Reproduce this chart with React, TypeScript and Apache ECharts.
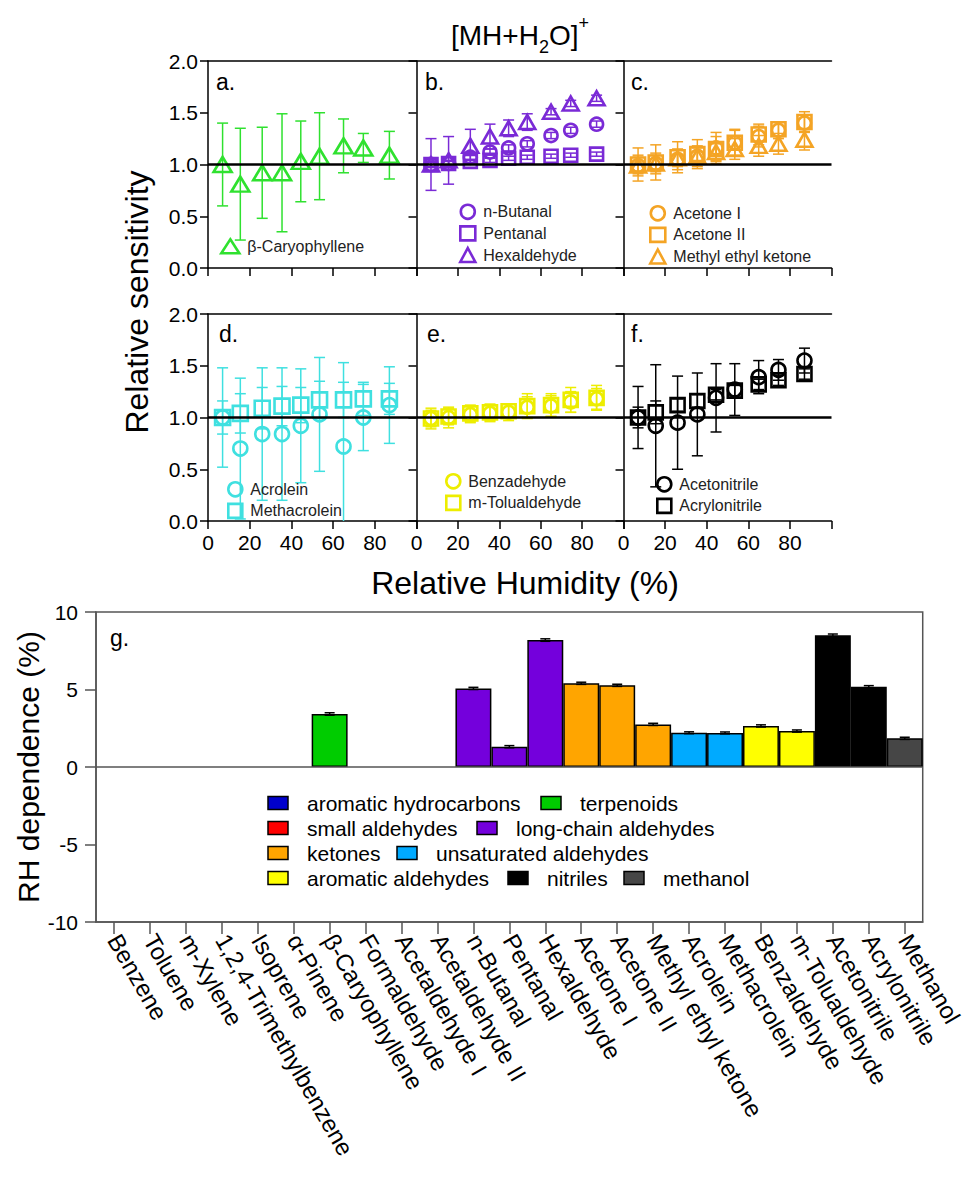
import React, { useEffect, useRef } from 'react';
import * as echarts from 'echarts';

const FONT = '"Liberation Sans", Arial, Helvetica, sans-serif';

// ---------- Data: relative humidity sweep (x values shared by all panels) ----------
const rh = [7, 15.5, 26, 35.5, 44.5, 53.5, 65, 74.5, 87];

// panel a
const caryophyllene = [1.0, 0.81, 0.92, 0.92, 1.03, 1.08, 1.18, 1.16, 1.09];
const caryophylleneErr = [0.4, 0.54, 0.44, 0.57, 0.39, 0.42, 0.26, 0.14, 0.23];
// panel b
const butanal = [1.0, 1.01, 1.07, 1.12, 1.16, 1.2, 1.28, 1.33, 1.39];
const butanalErr = [0.03, 0.03, 0.03, 0.03, 0.03, 0.03, 0.03, 0.03, 0.03];
const pentanal = [1.0, 1.01, 1.03, 1.04, 1.06, 1.07, 1.08, 1.09, 1.1];
const pentanalErr = [0.02, 0.02, 0.02, 0.02, 0.02, 0.02, 0.02, 0.02, 0.02];
const hexaldehyde = [1.0, 1.04, 1.18, 1.27, 1.35, 1.41, 1.51, 1.59, 1.64];
const hexaldehydeErr = [0.25, 0.23, 0.16, 0.12, 0.08, 0.08, 0.03, 0.03, 0.03];
// panel c
const acetone1 = [0.99, 1.01, 1.05, 1.08, 1.16, 1.21, 1.27, 1.33, 1.4];
const acetone1Err = [0.1, 0.1, 0.1, 0.1, 0.15, 0.13, 0.1, 0.08, 0.08];
const acetone2 = [1.0, 1.02, 1.07, 1.1, 1.15, 1.21, 1.29, 1.34, 1.41];
const acetone2Err = [0.16, 0.17, 0.15, 0.14, 0.12, 0.12, 0.1, 0.07, 0.1];
const mek = [0.99, 1.01, 1.06, 1.08, 1.12, 1.15, 1.18, 1.2, 1.24];
const mekErr = [0.08, 0.08, 0.08, 0.08, 0.08, 0.1, 0.1, 0.1, 0.1];
// panel d
const acrolein = [1.0, 0.7, 0.84, 0.84, 0.92, 1.03, 0.72, 1.0, 1.12];
const acroleinErr = [0.48, 0.68, 0.64, 0.64, 0.55, 0.55, 0.81, 0.32, 0.37];
const methacrolein = [1.0, 1.04, 1.09, 1.11, 1.12, 1.17, 1.17, 1.18, 1.18];
const methacroleinErr = [0.16, 0.19, 0.2, 0.19, 0.17, 0.18, 0.17, 0.16, 0.15];
// panel e
const benzaldehyde = [0.99, 1.0, 1.03, 1.04, 1.05, 1.1, 1.11, 1.15, 1.18];
const benzaldehydeErr = [0.1, 0.1, 0.08, 0.08, 0.08, 0.1, 0.1, 0.1, 0.1];
const tolualdehyde = [0.99, 1.01, 1.04, 1.05, 1.06, 1.11, 1.12, 1.17, 1.19];
const tolualdehydeErr = [0.08, 0.08, 0.08, 0.08, 0.07, 0.12, 0.11, 0.12, 0.12];
// panel f
const acetonitrile = [1.0, 0.92, 0.95, 1.03, 1.19, 1.27, 1.39, 1.46, 1.55];
const acetonitrileErr = [0.3, 0.59, 0.45, 0.4, 0.33, 0.25, 0.16, 0.1, 0.12];
const acrylonitrile = [1.0, 1.05, 1.12, 1.16, 1.22, 1.26, 1.32, 1.36, 1.42];
const acrylonitrileErr = [0.1, 0.11, 0.06, 0.06, 0.05, 0.05, 0.05, 0.05, 0.05];

const yTicksTop = [0, 0.5, 1.0, 1.5, 2.0];
const xTicksRH = [0, 20, 40, 60, 80];

// ---------- Data: panel g ----------
const compounds = [
  'Benzene', 'Toluene', 'm-Xylene', '1,2,4-Trimethylbenzene', 'Isoprene', 'α-Pinene',
  'β-Caryophyllene', 'Formaldehyde', 'Acetaldehyde I', 'Acetaldehyde II', 'n-Butanal',
  'Pentanal', 'Hexaldehyde', 'Acetone I', 'Acetone II', 'Methyl ethyl ketone', 'Acrolein',
  'Methacrolein', 'Benzaldehyde', 'm-Tolualdehyde', 'Acetonitrile', 'Acrylonitrile', 'Methanol',
];
const compoundGroup = [
  'aromatic hydrocarbons', 'aromatic hydrocarbons', 'aromatic hydrocarbons', 'aromatic hydrocarbons',
  'terpenoids', 'terpenoids', 'terpenoids',
  'small aldehydes', 'small aldehydes', 'small aldehydes',
  'long-chain aldehydes', 'long-chain aldehydes', 'long-chain aldehydes',
  'ketones', 'ketones', 'ketones',
  'unsaturated aldehydes', 'unsaturated aldehydes',
  'aromatic aldehydes', 'aromatic aldehydes',
  'nitriles', 'nitriles',
  'methanol',
];
const rhDependence = [
  null, null, null, null, null, null, 3.42, null, null, null, 5.07, 1.31, 8.19,
  5.4, 5.27, 2.75, 2.21, 2.2, 2.65, 2.32, 8.5, 5.18, 1.85,
];
const rhDependenceErr = [
  null, null, null, null, null, null, 0.08, null, null, null, 0.07, 0.07, 0.08,
  0.07, 0.07, 0.07, 0.06, 0.06, 0.07, 0.07, 0.08, 0.07, 0.07,
];
const yTicksG = [-10, -5, 0, 5, 10];

const groupNames = [
  'aromatic hydrocarbons', 'small aldehydes', 'ketones', 'aromatic aldehydes',
  'terpenoids', 'long-chain aldehydes', 'unsaturated aldehydes', 'nitriles', 'methanol',
];
const groupColors = ['#0000cc', '#ff0000', '#ffa500', '#ffff00', '#00cc00', '#7400dc', '#00aaff', '#000000', '#464646'];
const legendRows = [
  ['aromatic hydrocarbons', 'terpenoids'],
  ['small aldehydes', 'long-chain aldehydes'],
  ['ketones', 'unsaturated aldehydes'],
  ['aromatic aldehydes', 'nitriles', 'methanol'],
];

// ---------- Layout ----------
const gridRects = [
  [208, 61, 208.5, 207], [416.5, 61, 207, 207], [623.5, 61, 208, 207],
  [208, 314, 208.5, 207], [416.5, 314, 207, 207], [623.5, 314, 208, 207],
];
const legendSwatchX = [[268, 541], [268, 477], [268, 397], [268, 508, 624]];
const legendRowY = [803, 828, 853, 878];

const panels = [
  {
    label: 'a.', color: '#2fe12f', legend: [220, 238, 18, 14],
    series: [{ name: 'β-Caryophyllene', symbol: 'triangle', size: [18, 15], v: caryophyllene, e: caryophylleneErr }],
  },
  {
    label: 'b.', color: '#7a2ad6', legend: [459, 203.5, 15, 14],
    series: [
      { name: 'n-Butanal', symbol: 'circle', size: 13, v: butanal, e: butanalErr },
      { name: 'Pentanal', symbol: 'rect', size: 13, v: pentanal, e: pentanalErr },
      { name: 'Hexaldehyde', symbol: 'triangle', size: [16, 14], v: hexaldehyde, e: hexaldehydeErr },
    ],
  },
  {
    label: 'c.', color: '#f4a425', legend: [649, 205, 15, 14],
    series: [
      { name: 'Acetone I', symbol: 'circle', size: 13, v: acetone1, e: acetone1Err },
      { name: 'Acetone II', symbol: 'rect', size: 14, v: acetone2, e: acetone2Err },
      { name: 'Methyl ethyl ketone', symbol: 'triangle', size: [16, 14], v: mek, e: mekErr },
    ],
  },
  {
    label: 'd.', color: '#3fe0e0', legend: [227, 481, 14, 14],
    series: [
      { name: 'Acrolein', symbol: 'circle', size: 14, v: acrolein, e: acroleinErr },
      { name: 'Methacrolein', symbol: 'rect', size: 15, v: methacrolein, e: methacroleinErr },
    ],
  },
  {
    label: 'e.', color: '#eded00', legend: [445, 473, 14, 14],
    series: [
      { name: 'Benzadehyde', symbol: 'circle', size: 13, v: benzaldehyde, e: benzaldehydeErr },
      { name: 'm-Tolualdehyde', symbol: 'rect', size: 14, v: tolualdehyde, e: tolualdehydeErr },
    ],
  },
  {
    label: 'f.', color: '#000000', legend: [656, 476, 14, 14],
    series: [
      { name: 'Acetonitrile', symbol: 'circle', size: 14, v: acetonitrile, e: acetonitrileErr },
      { name: 'Acrylonitrile', symbol: 'rect', size: 14, v: acrylonitrile, e: acrylonitrileErr },
    ],
  },
];
const panelLabelPos = [[216, 82], [425, 82], [631, 82], [219, 334], [427, 334], [631, 334]];

function errorBars(name: string, xi: number, yi: number, data: any[], color: string, cap: number, lw: number) {
  return {
    type: 'custom',
    name,
    xAxisIndex: xi,
    yAxisIndex: yi,
    clip: true,
    silent: true,
    z: 2,
    data,
    encode: { x: 0, y: [1, 2] },
    renderItem: (_p: any, api: any) => {
      const x = api.value(0);
      const lo = api.coord([x, api.value(1)]);
      const hi = api.coord([x, api.value(2)]);
      const style = { stroke: color, lineWidth: lw, fill: 'none' };
      return {
        type: 'group',
        children: [
          { type: 'line', shape: { x1: lo[0], y1: lo[1], x2: hi[0], y2: hi[1] }, style },
          { type: 'line', shape: { x1: lo[0] - cap, y1: lo[1], x2: lo[0] + cap, y2: lo[1] }, style },
          { type: 'line', shape: { x1: hi[0] - cap, y1: hi[1], x2: hi[0] + cap, y2: hi[1] }, style },
        ],
      };
    },
  };
}

function buildOption() {
  const black = { color: '#000', width: 1.5 };
  const grid: any[] = gridRects.map(([l, t, w, h]) => ({ left: l, top: t, width: w, height: h, containLabel: false }));
  grid.push({ left: 96, top: 612, width: 827, height: 310, show: true, borderColor: '#555', borderWidth: 1.5, backgroundColor: 'transparent' });

  const xAxis: any[] = [];
  const yAxis: any[] = [];
  panels.forEach((_p, i) => {
    xAxis.push({
      gridIndex: i, type: 'value', min: 0, max: 100, interval: 20,
      axisLine: { show: true, onZero: false, lineStyle: black },
      axisTick: { show: true, length: 8, lineStyle: black },
      axisLabel: {
        show: i >= 3, fontSize: 21, color: '#000', margin: 11, fontFamily: FONT,
        formatter: (v: number) => (xTicksRH.indexOf(v) >= 0 ? String(v) : ''),
      },
      splitLine: { show: false },
    });
    yAxis.push({
      gridIndex: i, type: 'value', min: 0, max: 2, interval: 0.5,
      axisLine: { show: true, onZero: false, lineStyle: black },
      axisTick: { show: true, length: 8, lineStyle: black },
      axisLabel: {
        show: i === 0 || i === 3, fontSize: 21, color: '#000', margin: 10, fontFamily: FONT,
        formatter: (v: number) => (yTicksTop.indexOf(v) >= 0 ? v.toFixed(1) : ''),
      },
      splitLine: { show: false },
    });
  });
  panels.forEach((_p, i) => {
    xAxis.push({
      gridIndex: i, type: 'value', position: 'top', min: 0, max: 100,
      axisLine: { show: true, onZero: false, lineStyle: black },
      axisTick: { show: false }, axisLabel: { show: false }, splitLine: { show: false },
    });
  });
  // panel g axes
  xAxis.push({
    gridIndex: 6, type: 'category', data: compounds,
    axisLine: { show: true, onZero: false, lineStyle: { color: '#555', width: 1.5 } },
    axisTick: { show: true, alignWithLabel: true, length: 12, lineStyle: { color: '#555', width: 1.5 } },
    axisLabel: { rotate: -60, interval: 0, fontSize: 24, color: '#000', margin: 14, fontFamily: FONT },
    splitLine: { show: false },
  });
  yAxis.push({
    gridIndex: 6, type: 'value', min: -10, max: 10, interval: 5,
    axisLine: { show: true, onZero: false, lineStyle: { color: '#555', width: 1.5 } },
    axisTick: { show: true, length: 11, lineStyle: { color: '#555', width: 1.5 } },
    axisLabel: {
      fontSize: 21, color: '#000', margin: 18, fontFamily: FONT,
      formatter: (v: number) => (yTicksG.indexOf(v) >= 0 ? String(v) : ''),
    },
    splitLine: { show: false },
  });

  const series: any[] = [];
  const legend: any[] = [];
  panels.forEach((p, i) => {
    p.series.forEach((s, k) => {
      series.push(errorBars(s.name + ' err', i, i, rh.map((x, j) => [x, s.v[j] - s.e[j], s.v[j] + s.e[j]]), p.color, 5.5, 1.5));
      const sc: any = {
        type: 'scatter', name: s.name, xAxisIndex: i, yAxisIndex: i,
        data: rh.map((x, j) => [x, s.v[j]]),
        symbol: s.symbol, symbolSize: s.size, z: 3, silent: true,
        itemStyle: { color: 'rgba(0,0,0,0)', borderColor: p.color, borderWidth: 2.6, opacity: 1 },
        emphasis: { disabled: true },
      };
      if (k === 0) {
        sc.markLine = {
          silent: true, symbol: ['none', 'none'], label: { show: false },
          lineStyle: { color: '#000', width: 2.5, type: 'solid' },
          data: [{ yAxis: 1 }],
        };
      }
      series.push(sc);
    });
    const [ll, lt, iw, ih] = p.legend;
    legend.push({
      data: p.series.map((s) => s.name), orient: 'vertical', left: ll, top: lt,
      itemWidth: iw, itemHeight: ih, itemGap: 5, padding: 0, selectedMode: false,
      itemStyle: { borderWidth: 2.6 },
      textStyle: { fontSize: 16, color: '#222', fontFamily: FONT, padding: [0, 0, 0, 3], lineHeight: 14 },
    });
  });

  const groupColor = (g: string) => groupColors[groupNames.indexOf(g)];
  series.push({
    type: 'bar', name: 'RH dependence', xAxisIndex: 12, yAxisIndex: 6,
    barCategoryGap: '0%', barWidth: '100%', silent: true,
    data: rhDependence.map((v, i) =>
      v == null ? '-' : { value: v, itemStyle: { color: groupColor(compoundGroup[i]), borderColor: '#000', borderWidth: 1.5 } }),
    markLine: {
      silent: true, symbol: ['none', 'none'], label: { show: false },
      lineStyle: { color: '#555', width: 1.5, type: 'solid' }, data: [{ yAxis: 0 }],
    },
  });
  const barErr: any[] = [];
  rhDependence.forEach((v, i) => {
    const e = rhDependenceErr[i];
    if (v != null && e != null) barErr.push([i, v - e, v + e]);
  });
  const eb: any = errorBars('RH dependence err', 12, 6, barErr, '#000', 5, 1.5);
  eb.z = 4;
  series.push(eb);

  // graphic: titles, panel labels, bar legend
  const txt = (text: string, x: number, y: number, size: number, extra: any = {}) => ({
    type: 'text', x, y, silent: true,
    style: {
      text, fill: '#000', font: `${size}px ${FONT}`,
      textAlign: extra.align || 'center', textVerticalAlign: 'middle',
      align: extra.align || 'center', verticalAlign: 'middle',
    },
    rotation: extra.rotation || 0,
  });
  const graphic: any[] = [];
  graphic.push({
    type: 'text', x: 520, y: 35, silent: true,
    style: {
      text: '{a|[MH+H}{s|2}{a|O]}{p|+}', textAlign: 'center', textVerticalAlign: 'middle',
      align: 'center', verticalAlign: 'middle',
      rich: {
        a: { fontSize: 28, fontFamily: FONT, fill: '#000', color: '#000', lineHeight: 42, verticalAlign: 'middle' },
        s: { fontSize: 18, fontFamily: FONT, fill: '#000', color: '#000', lineHeight: 16, verticalAlign: 'bottom' },
        p: { fontSize: 18, fontFamily: FONT, fill: '#000', color: '#000', lineHeight: 16, verticalAlign: 'top' },
      },
    },
  });
  graphic.push(txt('Relative sensitivity', 137, 302, 32, { rotation: Math.PI / 2 }));
  graphic.push(txt('Relative Humidity (%)', 525, 583, 32));
  graphic.push(txt('RH dependence (%)', 28, 767, 30, { rotation: Math.PI / 2 }));
  panels.forEach((p, i) => graphic.push(txt(p.label, panelLabelPos[i][0], panelLabelPos[i][1], 23, { align: 'left' })));
  graphic.push(txt('g.', 110, 638, 23, { align: 'left' }));
  legendRows.forEach((row, r) => {
    row.forEach((g, c) => {
      const sx = legendSwatchX[r][c];
      const y = legendRowY[r];
      graphic.push({
        type: 'rect', silent: true, shape: { x: sx, y: y - 6.5, width: 20, height: 13 },
        style: { fill: groupColor(g), stroke: '#000', lineWidth: 1.5 },
      });
      graphic.push(txt(g, sx + 39, y, 21, { align: 'left' }));
    });
  });

  return {
    animation: false,
    backgroundColor: '#fff',
    textStyle: { fontFamily: FONT },
    grid, xAxis, yAxis, series, legend, graphic,
  };
}

export default function App() {
  const ref = useRef<HTMLDivElement>(null);
  useEffect(() => {
    if (!ref.current) return;
    const chart = echarts.init(ref.current, undefined, { renderer: 'svg' });
    chart.setOption(buildOption() as any);
    return () => chart.dispose();
  }, []);
  return <div ref={ref} style={{ position: 'absolute', left: 0, top: 0, width: 966, height: 1178 }} />;
}
